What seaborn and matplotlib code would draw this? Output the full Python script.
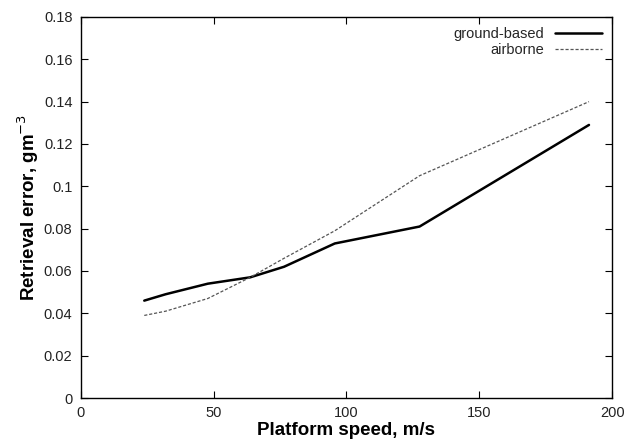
import matplotlib
matplotlib.use("Agg")
import matplotlib.pyplot as plt
import matplotlib.ticker as mticker
import seaborn as sns
import pandas as pd

speed = [23.9, 31.9, 47.8, 63.75, 76.5, 95.6, 127.5, 191.25]
ground_based = [0.046, 0.049, 0.054, 0.057, 0.062, 0.073, 0.081, 0.129]
airborne = [0.039, 0.041, 0.047, 0.057, 0.066, 0.079, 0.105, 0.140]

x_ticks = [0, 50, 100, 150, 200]
y_ticks = [0, 0.02, 0.04, 0.06, 0.08, 0.1, 0.12, 0.14, 0.16, 0.18]

sns.set_theme(style="ticks")
plt.rcParams['font.family'] = ['Liberation Sans', 'DejaVu Sans']

df_g = pd.DataFrame({"speed": speed, "err": ground_based})
df_a = pd.DataFrame({"speed": speed, "err": airborne})

fig = plt.figure(figsize=(6.26, 4.41), dpi=100)
ax = fig.add_axes([0.129, 0.0975, 0.849, 0.864])

sns.lineplot(data=df_g, x="speed", y="err", ax=ax, color="black", linewidth=1.8,
             label="ground-based")
sns.lineplot(data=df_a, x="speed", y="err", ax=ax, color="#555555", linewidth=0.9,
             dashes=False, label="airborne")
ax.lines[1].set_dashes([2.5, 1.5])

ax.set_xlim(0, 200)
ax.set_ylim(0, 0.18)
ax.set_xticks(x_ticks)
ax.set_yticks(y_ticks)
ax.yaxis.set_major_formatter(mticker.FormatStrFormatter('%g'))
ax.tick_params(direction="in", top=True, right=True, length=5, width=0.8,
               labelsize=10.5, colors="black", pad=6)
ax.tick_params(axis="x", labelcolor="#222222")
ax.tick_params(axis="y", labelcolor="#222222")
for s in ax.spines.values():
    s.set_linewidth(1.0)
    s.set_color("black")

ax.set_xlabel("Platform speed, m/s", fontsize=13.5, fontweight="bold", labelpad=1, color="black")
ax.set_ylabel("Retrieval error, gm$^{-3}$", fontsize=13.5, fontweight="bold", labelpad=2, color="black")

leg = ax.legend(loc="upper right", frameon=False, markerfirst=False, fontsize=10.5,
                handlelength=3.2, handletextpad=0.8, borderaxespad=0.3, labelspacing=0.1)

fig.savefig("out.png", dpi=100)
